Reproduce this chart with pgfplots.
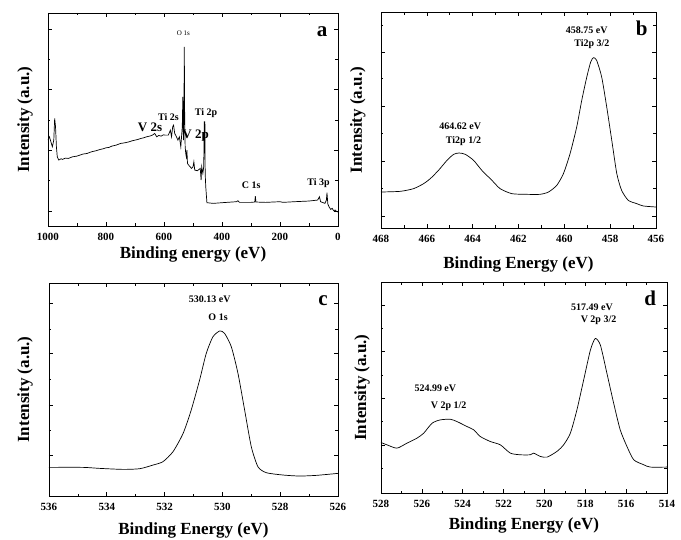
\documentclass[border=0pt]{standalone}
\usepackage{fontspec}
\setmainfont{Liberation Serif}
\usepackage{pgfplots}
\pgfplotsset{compat=1.18}
\tikzset{
  ann/.style={font=\bfseries\fontsize{10}{11}\selectfont, inner sep=0pt},
  big/.style={font=\bfseries\fontsize{13}{14}\selectfont, inner sep=0pt},
  pl/.style={font=\bfseries\fontsize{21}{24}\selectfont, inner sep=0pt},
}
\begin{document}
\begin{tikzpicture}
\useasboundingbox (0pt,0pt) rectangle (681pt,539pt);
\pgfplotsset{
  every axis/.append style={
    scale only axis,
    axis line style={line width=0.8pt},
    tick align=inside,
    major tick length=4pt, minor tick length=2.5pt,
    tick style={black, line width=0.6pt},
    yticklabels={},
    x dir=reverse,
    ymin=0,
    ticklabel style={font=\bfseries\fontsize{11}{13}\selectfont},
    xticklabel style={yshift=-3.5pt},
    /pgf/number format/assume math mode=true,
    /pgf/number format/1000 sep={},
    label style={font=\bfseries\fontsize{17}{20}\selectfont},
    ylabel={Intensity (a.u.)},
  },
}
% ---------------- panel a
\begin{axis}[at={(48pt,313pt)}, anchor=south west, width=290pt, height=213pt,
  xmin=0, xmax=1000, xtick={0,200,...,1000}, minor xtick={100,300,...,900},
  ymax=640, ytick={45,228,410,592}, minor ytick={137,319,501},
  xlabel={Binding energy (eV)},
  xlabel style={at={(axis description cs:0.5,-0.136)}, anchor=center},
  ylabel style={at={(axis description cs:-0.079,0.5)}, anchor=center}]
\addplot[black, line width=0.7pt] coordinates {
(1000,258) (995,268) (990,253) (985,238) (980,258) (977,323) (974,298) (971,238)
(968,208) (963,198) (955,202) (950,200) (940,204) (930,203) (915,208) (900,210) (890,213) (880,216)
(865,218) (850,223) (835,226) (820,230) (810,232) (800,235) (790,236) (780,240) (765,243) (750,248)
(735,250) (720,253) (710,256) (700,258) (690,260) (680,263) (670,265) (660,268) (650,270) (640,273)
(632,278) (625,268) (618,272) (610,270) (602,274) (595,273) (585,273) (578,288) (574,268)
(570,298) (567,303) (563,278) (557,268) (552,258) (547,268) (542,238) (537,298) (535,388)
(533,258) (531,378) (530,538) (528.5,298) (527,238) (525,218) (523,208) (521,228) (519,188)
(515,183) (510,178) (505,173) (500,178) (497,193) (494,168) (485,166) (475,173) (472,138)
(470,178) (466,158) (463,178) (461,313) (459,313) (458,158) (456,118) (452,70) (430,68)
(400,70) (350,73) (345,76) (340,71) (300,71) (287,72) (285,90) (283,72) (250,71) (200,73)
(190,71) (150,73) (100,75) (70,78) (64,88) (60,73) (45,68) (40,78) (38,100) (35,66)
(30,56) (25,50) (20,53) (15,46) (10,48) (5,44) (0,42)};
\node[font=\fontsize{7}{8}\selectfont, inner sep=0pt] at (axis cs:533,578) {O 1s};
\node[ann] at (axis cs:585,328) {Ti 2s};
\node[big] at (axis cs:648,298) {V 2s};
\node[big] at (axis cs:491,273) {V 2p};
\node[ann] at (axis cs:455,340) {Ti 2p};
\node[ann] at (axis cs:299,123) {C 1s};
\node[ann] at (axis cs:67,128) {Ti 3p};
\node[pl] at (axis cs:55,583) {a};
\end{axis}
% ---------------- panel b
\begin{axis}[at={(381pt,311pt)}, anchor=south west, width=275pt, height=216pt,
  xmin=456, xmax=468, xtick={456,458,...,468}, minor xtick={457,459,...,467},
  ymax=648, ytick={35,200,366,526}, minor ytick={118,283,448,608},
  xlabel={Binding Energy (eV)},
  xlabel style={at={(axis description cs:0.5,-0.171)}, anchor=center},
  ylabel style={at={(axis description cs:-0.084,0.5)}, anchor=center}]
\addplot[black, line width=0.7pt, smooth, tension=0.4] coordinates {
(468.00,108) (467.16,110) (466.58,118) (466.14,133) (465.85,148) (465.49,173) (465.12,203)
(464.83,221) (464.59,225) (464.32,221) (463.96,203) (463.60,173) (463.16,143) (462.80,118)
(462.29,103) (461.64,101) (461.06,101) (460.69,108) (460.33,128) (460.04,163) (459.75,223)
(459.46,303) (459.24,383) (459.02,453) (458.85,498) (458.73,511) (458.59,503) (458.37,453)
(458.15,363) (457.93,263) (457.71,163) (457.50,113) (457.21,83) (456.84,73) (456.55,66) (456.00,63)};
\node[ann] at (axis cs:459.02,593) {458.75 eV};
\node[ann] at (axis cs:458.80,553) {Ti2p 3/2};
\node[ann] at (axis cs:464.54,305) {464.62 eV};
\node[ann] at (axis cs:464.40,261) {Ti2p 1/2};
\node[pl] at (axis cs:456.62,598) {b};
\end{axis}
% ---------------- panel c
\begin{axis}[at={(49pt,43pt)}, anchor=south west, width=289pt, height=213pt,
  xmin=526, xmax=536, xtick={526,528,...,536}, minor xtick={527,529,...,535},
  ymax=640, ytick={121,273,428,578}, minor ytick={197,350,502},
  xlabel={Binding Energy (eV)},
  xlabel style={at={(axis description cs:0.5,-0.16)}, anchor=center},
  ylabel style={at={(axis description cs:-0.083,0.5)}, anchor=center}]
\addplot[black, line width=0.7pt, smooth, tension=0.4] coordinates {
(536.00,86) (534.82,86) (534.25,83) (533.44,80) (532.86,82) (532.40,93) (532.06,103)
(531.71,133) (531.36,188) (531.08,258) (530.79,348) (530.56,428) (530.33,478) (530.09,496)
(529.92,488) (529.69,448) (529.46,368) (529.23,258) (529.00,148) (528.77,88) (528.48,70)
(527.90,63) (527.33,60) (526.75,62) (526.00,68)};
\node[ann] at (axis cs:530.44,590) {530.13 eV};
\node[ann] at (axis cs:530.15,536) {O 1s};
\node[pl] at (axis cs:526.52,586) {c};
\end{axis}
% ---------------- panel d
\begin{axis}[at={(381pt,46pt)}, anchor=south west, width=286pt, height=211pt,
  xmin=514, xmax=528, xtick={514,516,...,528}, minor xtick={515,517,...,527},
  ymax=635, ytick={145,285,425,565}, minor ytick={75,215,355,495},
  xlabel={Binding Energy (eV)},
  xlabel style={at={(axis description cs:0.5,-0.152)}, anchor=center},
  ylabel style={at={(axis description cs:-0.066,0.5)}, anchor=center}]
\addplot[black, line width=0.7pt, smooth, tension=0.4] coordinates {
(528.00,152) (527.71,145) (527.22,135) (526.73,150) (526.24,165) (525.91,180) (525.50,210)
(525.10,220) (524.61,222) (524.28,215) (523.79,200) (523.46,190) (523.14,170) (522.65,155)
(522.16,145) (521.67,120) (521.18,115) (520.69,115) (520.53,120) (520.20,110) (519.87,108)
(519.39,125) (519.06,145) (518.73,180) (518.41,250) (518.08,340) (517.75,430) (517.51,465)
(517.26,445) (516.94,360) (516.61,270) (516.29,190) (515.96,140) (515.63,100) (515.14,85)
(514.82,78) (514.00,78)};
\node[ann] at (axis cs:517.67,560) {517.49 eV};
\node[ann] at (axis cs:517.35,520) {V 2p 3/2};
\node[ann] at (axis cs:525.34,315) {524.99 eV};
\node[ann] at (axis cs:524.69,260) {V 2p 1/2};
\node[pl] at (axis cs:514.82,585) {d};
\end{axis}
\end{tikzpicture}
\end{document}
